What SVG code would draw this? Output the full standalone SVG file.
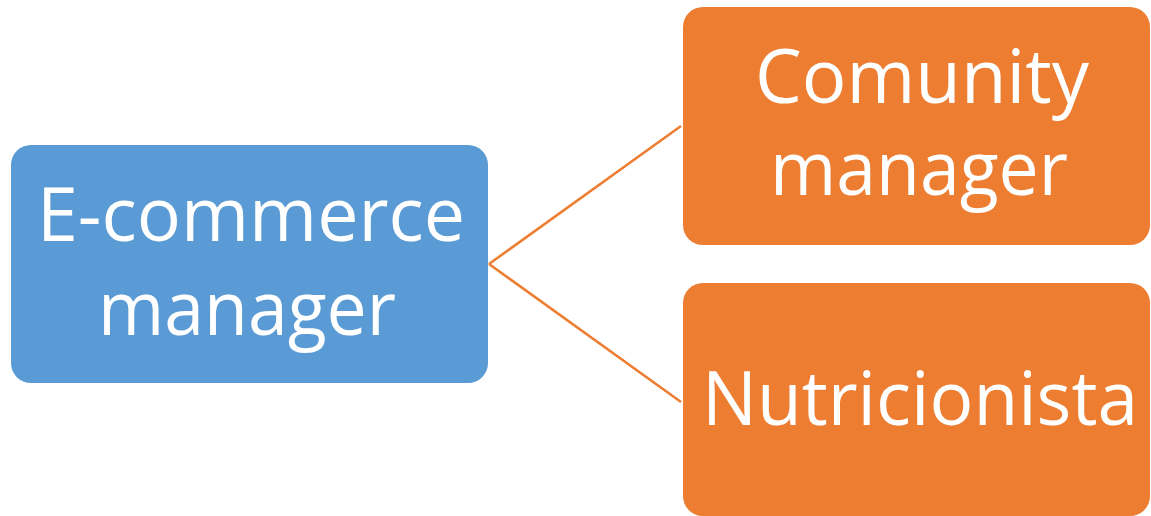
<svg xmlns="http://www.w3.org/2000/svg" width="1151" height="516" viewBox="0 0 1151 516">
<style>
.t{font-family:"Open Sans","Noto Sans","Liberation Sans",sans-serif;font-size:75px;fill:#fff;text-anchor:middle}
.c{stroke:#ED7D31;stroke-width:2.5;fill:none}
</style>
<rect width="1151" height="516" fill="#fff"/>
<g id="connectors">
<path class="c" d="M489,264 L681,126"/>
<path class="c" d="M489,264 L681,402"/>
</g>
<g id="ecommerce">
<rect x="11" y="145" width="477" height="238" rx="20" fill="#5B9BD5"/>
<text class="t" x="251" y="241" textLength="428" lengthAdjust="spacingAndGlyphs">E-commerce</text>
<text class="t" x="247" y="335" textLength="298" lengthAdjust="spacingAndGlyphs">manager</text>
</g>
<g id="community">
<rect x="683" y="7" width="467" height="238" rx="20" fill="#ED7D31"/>
<text class="t" x="922" y="103" textLength="334" lengthAdjust="spacingAndGlyphs">Comunity</text>
<text class="t" x="919" y="195" textLength="298" lengthAdjust="spacingAndGlyphs">manager</text>
</g>
<g id="nutricionista">
<rect x="683" y="283" width="467" height="233" rx="20" fill="#ED7D31"/>
<text class="t" x="920" y="425" textLength="436" lengthAdjust="spacingAndGlyphs">Nutricionista</text>
</g>
</svg>
